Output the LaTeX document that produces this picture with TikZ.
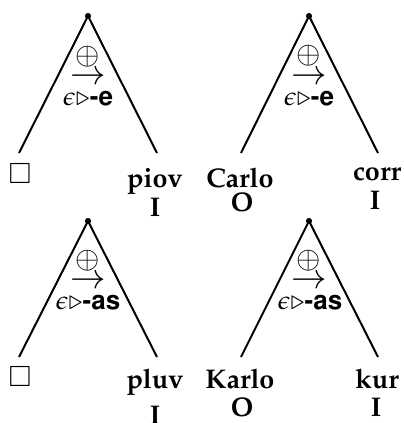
\documentclass[tikz,border=0pt]{standalone}
\usepackage[T1]{fontenc}
\usepackage{mathpazo}
\usepackage{helvet}
\usepackage{amssymb}
\tikzset{
  leg/.style={black, line width=1pt},
  plus/.style={anchor=base, inner sep=0pt, font=\fontsize{15}{16}\selectfont},
  arr/.style={anchor=base, inner sep=0pt, font=\fontsize{17}{19}\selectfont},
  lab/.style={anchor=base, inner sep=0pt, font=\fontsize{13}{15}\selectfont},
  word/.style={anchor=base, inner sep=0pt, font=\fontsize{13.5}{16.5}\selectfont\bfseries}
}
\begin{document}
\begin{tikzpicture}[x=0.5pt, y=-0.5pt]
    \useasboundingbox (0,0) rectangle (403,423);
    % Top left tree
    \coordinate (a1) at (88,16);
    \coordinate (a1l) at (19,153);
    \coordinate (a1r) at (157,153);
    \draw[leg] (a1l) -- (a1) -- (a1r);
    \filldraw[black] (a1) circle (1.3pt);
    \node[plus] (o1) at (88,64) {$\oplus$};
    \node[arr] (r1) at (88,84) {$\rightarrow$};
    \node[lab] (s1) at (88,105) {$\epsilon\triangleright$\textsf{\bfseries -e}};
    \node[lab, font=\fontsize{14}{16}\selectfont] (b1) at (20,183) {$\Box$};
    \node[word] (w1) at (155,187) {piov};
    \node[word] (t1) at (155,216) {I};
    % Top right tree
    \coordinate (a2) at (309,16);
    \coordinate (a2l) at (241,153);
    \coordinate (a2r) at (378,153);
    \draw[leg] (a2l) -- (a2) -- (a2r);
    \filldraw[black] (a2) circle (1.3pt);
    \node[plus] (o2) at (309,63) {$\oplus$};
    \node[arr] (r2) at (309,84) {$\rightarrow$};
    \node[lab] (s2) at (309,105) {$\epsilon\triangleright$\textsf{\bfseries -e}};
    \node[word] (w2) at (240,187) {Carlo};
    \node[word] (t2) at (242,211) {O};
    \node[word] (w3) at (377,180) {corr};
    \node[word] (t3) at (375,209) {I};
    % Bottom left tree
    \coordinate (a3) at (88,221);
    \coordinate (a3l) at (19,357);
    \coordinate (a3r) at (157,357);
    \draw[leg] (a3l) -- (a3) -- (a3r);
    \filldraw[black] (a3) circle (1.3pt);
    \node[plus] (o3) at (88,268) {$\oplus$};
    \node[arr] (r3) at (88,288) {$\rightarrow$};
    \node[lab] (s3) at (88,309) {$\epsilon\triangleright$\textsf{\bfseries -as}};
    \node[lab, font=\fontsize{14}{16}\selectfont] (b3) at (20,386) {$\Box$};
    \node[word] (w4) at (155,388) {pluv};
    \node[word] (t4) at (155,424) {I};
    % Bottom right tree
    \coordinate (a4) at (309,221);
    \coordinate (a4l) at (241,357);
    \coordinate (a4r) at (378,357);
    \draw[leg] (a4l) -- (a4) -- (a4r);
    \filldraw[black] (a4) circle (1.3pt);
    \node[plus] (o4) at (309,268) {$\oplus$};
    \node[arr] (r4) at (309,288) {$\rightarrow$};
    \node[lab] (s4) at (310,309) {$\epsilon\triangleright$\textsf{\bfseries -as}};
    \node[word] (w5) at (240,388) {Karlo};
    \node[word] (t5) at (242,416) {O};
    \node[word] (t6) at (377,388) {kur};
    \node[word] (t7) at (376,416) {I};
\end{tikzpicture}
\end{document}
